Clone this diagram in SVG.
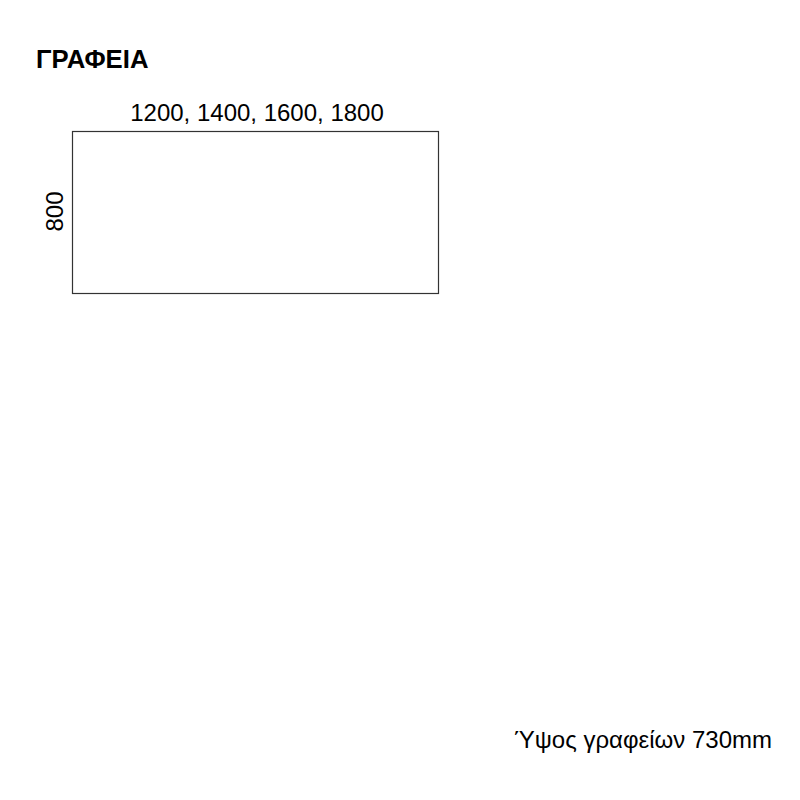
<svg xmlns="http://www.w3.org/2000/svg" width="800" height="800" viewBox="0 0 800 800">
<style>
.t{font-family:"Liberation Sans",Arial,sans-serif;fill:#000}
.title{font-size:25.7px;font-weight:bold}
.dim{font-size:24px}
.note{font-size:24px}
.desk{fill:#fff;stroke:#333;stroke-width:1.2}
</style>
<rect width="800" height="800" fill="#fff"/>
<text class="t title" x="36" y="68">ΓΡΑΦΕΙΑ</text>
<g id="desk">
<rect class="desk" x="72.5" y="131.5" width="366" height="162"/>
<text class="t dim" x="257" y="121" text-anchor="middle">1200, 1400, 1600, 1800</text>
<text class="t dim" transform="translate(63,211.5) rotate(-90)" text-anchor="middle">800</text>
</g>
<text class="t note" x="772" y="748" text-anchor="end">Ύψος γραφείων 730mm</text>
</svg>
